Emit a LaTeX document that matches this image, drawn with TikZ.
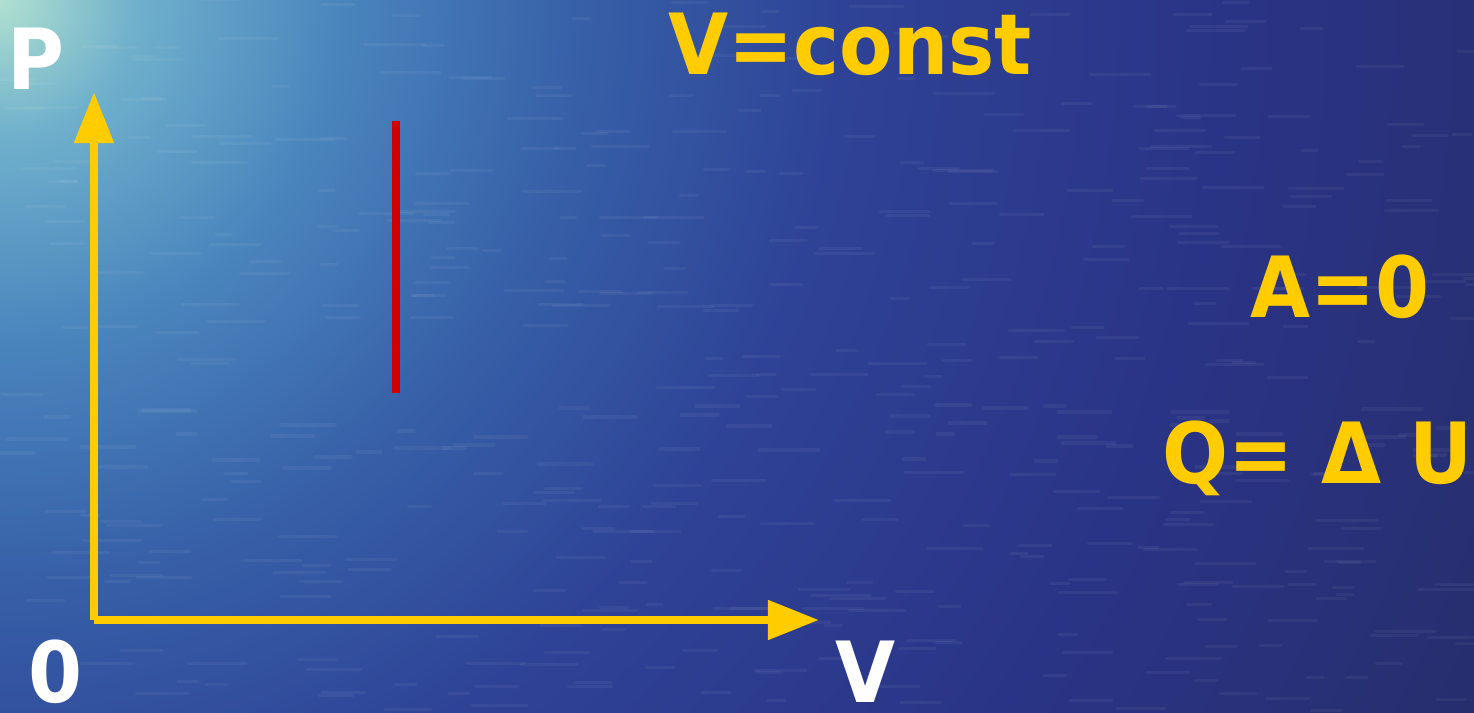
\documentclass[tikz,border=0pt]{standalone}
\usepackage{fontspec}
\setmainfont{DejaVu Sans}[FakeStretch=0.92]
\usepackage{xcolor}
\usetikzlibrary{arrows.meta}

\definecolor{axisyellow}{HTML}{FFCC00}
\definecolor{isored}{HTML}{D00000}
\definecolor{seaA}{HTML}{B0E0D0}
\definecolor{seaB}{HTML}{6FB0CC}
\definecolor{seaC}{HTML}{4A85BD}
\definecolor{seaD}{HTML}{3760A8}
\definecolor{seaE}{HTML}{2E4296}
\definecolor{seaF}{HTML}{2A3486}
\definecolor{seaG}{HTML}{262C66}
\definecolor{seaH}{HTML}{25295C}
\pgfdeclareradialshading{sea}{\pgfpoint{0bp}{0bp}}{color(0bp)=(seaA); color(2bp)=(seaB); color(5bp)=(seaC); color(8.5bp)=(seaD); color(12.5bp)=(seaE); color(18bp)=(seaF); color(26bp)=(seaG); color(50bp)=(seaH)}

\begin{document}
\begin{tikzpicture}[x=0.01cm, y=-0.01cm, >={Triangle[length=0.51cm, width=0.38cm]}]
    \tikzstyle{txtlabel} = [font=\bfseries\fontsize{24}{28}\selectfont, inner sep=0pt, anchor=base]
    \tikzstyle{axislabel} = [txtlabel, text=white]
    \tikzstyle{formula} = [txtlabel, text=axisyellow]
    \tikzstyle{axis} = [draw=axisyellow, line width=0.08cm, ->]
    \tikzstyle{isochore} = [draw=isored, line width=0.08cm]
    \tikzstyle{ripple} = [draw=white, line width=0.03cm, opacity=0.05, line cap=round]

    % background
    \useasboundingbox (0,0) rectangle (1474,713);
    \begin{scope}
        \clip (0,0) rectangle (1474,713);
        \shade[shading=sea] (-1700,-1700) rectangle (1700,1700);
        \pgfmathsetseed{7}
        \foreach \i in {1,...,450} {
            \pgfmathsetmacro{\rx}{random(0,1474)}
            \pgfmathsetmacro{\ry}{random(0,713)}
            \pgfmathsetmacro{\rl}{random(15,60)}
            \draw[ripple] (\rx,\ry) -- ++(\rl,0);
        }
    \end{scope}

    \coordinate (O) at (94,620);
    \coordinate (ptip) at (94,92);
    \coordinate (vtip) at (819,620);
    \coordinate (start) at (396,121);
    \coordinate (end) at (396,393);

    \node[axislabel] (plabel) at (36,90) {P};
    \node[axislabel] (zero) at (56,702) {0};
    \node[axislabel] (vlabel) at (866,702) {V};
    \node[formula] (title) at (850,75) {V=const};
    \node[formula] (work) at (1340,318) {A=0};
    \node[formula, anchor=base west] (heat) at (1162,483) {\spaceskip=0.33em Q= Δ U};

    \draw[axis] (O) -- (ptip);
    \draw[axis] (O) -- (vtip);
    \draw[isochore] (start) -- (end);
\end{tikzpicture}
\end{document}
